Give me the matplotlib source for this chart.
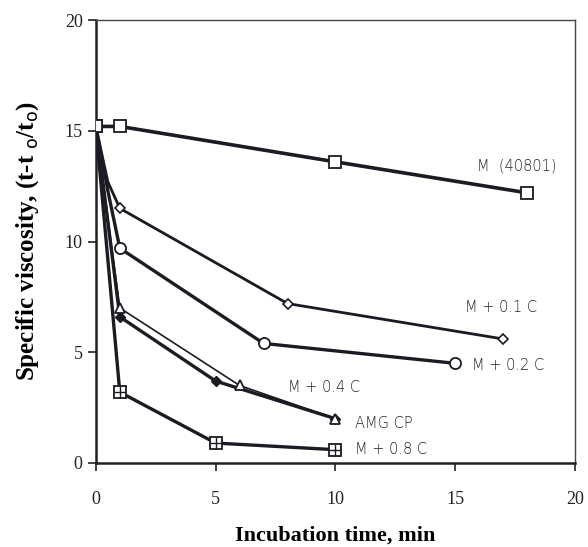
import matplotlib
matplotlib.use("Agg")
import matplotlib.pyplot as plt

# Data
m_x = [0, 1, 10, 18]
m_y = [15.2, 15.2, 13.6, 12.2]

c01_x = [0, 0.5, 1, 8, 17]
c01_y = [15.2, 12.7, 11.5, 7.2, 5.6]

c02_x = [0, 0.5, 1, 7, 15]
c02_y = [15.2, 12.3, 9.7, 5.4, 4.5]

c04_x = [0, 1, 5, 10]
c04_y = [15.2, 6.6, 3.7, 2.0]

amg_x = [0, 1, 6, 10]
amg_y = [15.2, 7.0, 3.5, 2.0]

c08_x = [0, 1, 5, 10]
c08_y = [15.2, 3.2, 0.9, 0.6]

labels = ["M  (40801)", "M + 0.1 C", "M + 0.2 C", "M + 0.4 C", "AMG CP", "M + 0.8 C"]
label_pos = [(15.9, 13.4), (15.4, 7.0), (15.7, 4.4), (8.0, 3.4), (10.8, 1.8), (10.8, 0.6)]

ticks = [0, 5, 10, 15, 20]

col = "#1c1a22"
fig = plt.figure(figsize=(5.88, 5.47), dpi=100)
ax = fig.add_axes([0.163, 0.1536, 0.815, 0.8096])

ax.plot(m_x, m_y, color=col, lw=2.6, marker="s", ms=8, mfc="white", mec=col, mew=1.3, zorder=3)
ax.plot(c01_x, c01_y, color=col, lw=2.0, marker="D", ms=5, mfc="white", mec=col, mew=1.2,
        markevery=[0, 2, 3, 4], zorder=3)
ax.plot(c02_x, c02_y, color=col, lw=2.4, marker="o", ms=8, mfc="white", mec=col, mew=1.3,
        markevery=[0, 2, 3, 4], zorder=3)
ax.plot(c04_x, c04_y, color=col, lw=2.4, marker="D", ms=5, mfc=col, mec=col, zorder=3)
ax.plot(amg_x, amg_y, color=col, lw=1.2, marker="^", ms=7, mfc="white", mec=col, mew=1.3, zorder=3)
ax.plot(c08_x, c08_y, color=col, lw=2.4, marker="s", ms=8, mfc="white", mec=col, mew=1.3, zorder=3)
# cross inside the squares of M + 0.8 C
ax.plot(c08_x[1:], c08_y[1:], ls="none", marker="+", ms=8, mec=col, mew=1.0, zorder=4)

for t, (x, y) in zip(labels, label_pos):
    ax.text(x, y, t, fontsize=10.5, family="DejaVu Sans", color="#222222",
            va="center", ha="left", fontweight="light")

ax.set_xlim(0, 20)
ax.set_ylim(0, 20)
ax.set_xticks(ticks)
ax.set_yticks(ticks)
ax.set_xticklabels([str(t) for t in ticks], family="Liberation Serif", fontsize=13, color="#333333")
ax.set_yticklabels([str(t) for t in ticks], family="Liberation Serif", fontsize=13, color="#333333")
ax.tick_params(direction="out", length=6, width=1.2, colors="#222222")
ax.tick_params(axis="x", pad=14)
for s in ["left", "bottom"]:
    ax.spines[s].set_linewidth(1.8)
    ax.spines[s].set_color("#222222")
for s in ["top", "right"]:
    ax.spines[s].set_linewidth(1.0)
    ax.spines[s].set_color("#444444")

ax.set_xlabel("Incubation time, min", family="Liberation Serif", fontweight="bold", fontsize=16,
              va="center")
ax.xaxis.set_label_coords(0.5, -0.163)
ax.set_ylabel("Specific viscosity, (t-t $_{\\rm o}$/t$_{\\rm o}$)", family="Liberation Serif",
              fontweight="bold", fontsize=18, va="center")
ax.yaxis.set_label_coords(-0.142, 0.5)

fig.savefig("out.png", dpi=100)
